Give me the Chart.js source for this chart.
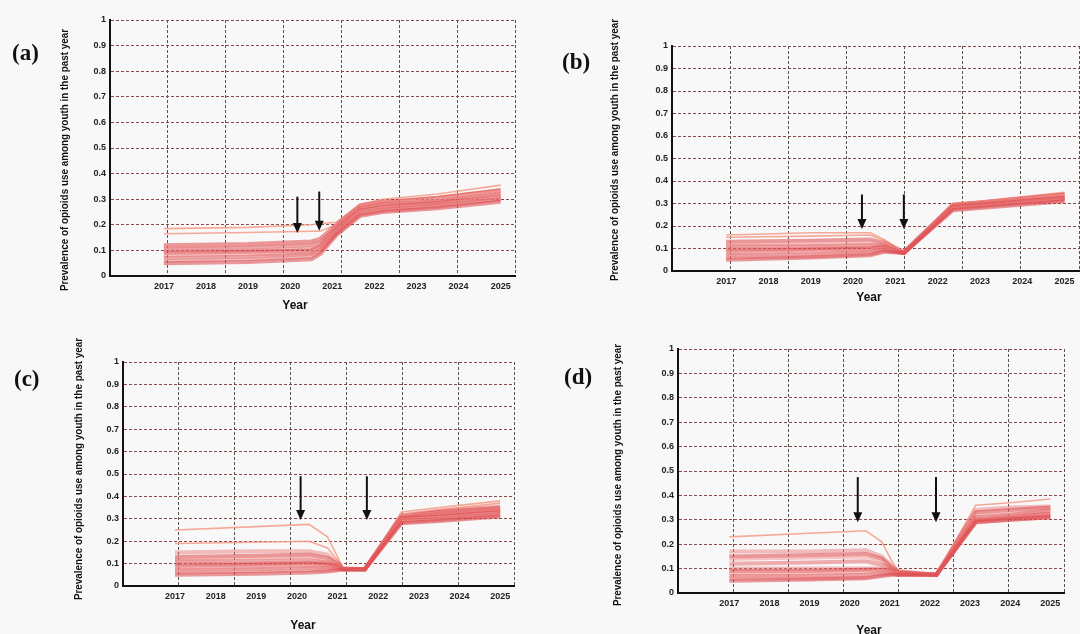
<!DOCTYPE html>
<html>
<head>
<meta charset="utf-8">
<script src="https://cdn.jsdelivr.net/npm/chart.js@4.4.1/dist/chart.umd.min.js"></script>
<style>
  body { margin: 0; width: 1080px; height: 634px; overflow: hidden; position: relative; background: #f8f8f8;
         font-family: 'Liberation Sans Narrow', 'Arial Narrow', 'Liberation Sans', Arial, sans-serif; color: #111; }
  canvas { position: absolute; }
  .tag { position: absolute; font: bold 23px 'Liberation Serif', 'DejaVu Serif', serif; transform: translate(0, -50%); }
  .ytitle { position: absolute; font-weight: bold; font-size: 11.5px; white-space: nowrap;
            transform: translate(-50%, -50%) rotate(-90deg) scaleX(0.86); }
  .xtitle { position: absolute; font-weight: bold; font-size: 13px; transform: translate(-50%, -50%) scaleX(0.92); }
</style>
</head>
<body>
<canvas id="chart-a" width="540" height="317" style="left:0;top:0"></canvas>
<canvas id="chart-b" width="540" height="317" style="left:540px;top:0"></canvas>
<canvas id="chart-c" width="540" height="317" style="left:0;top:317px"></canvas>
<canvas id="chart-d" width="540" height="317" style="left:540px;top:317px"></canvas>
<script>
// annees affichees sur l'axe x
const years = [2017, 2018, 2019, 2020, 2021, 2022, 2023, 2024, 2025];

// (a) temps et simulations
const timesA = [2017, 2019, 2020.5, 2020.71, 2021.1, 2021.66, 2022.2, 2023.5, 2025];
const runsA = [
  [0.05, 0.055, 0.065, 0.085, 0.16, 0.235, 0.25, 0.265, 0.29],
  [0.06, 0.065, 0.075, 0.095, 0.165, 0.24, 0.255, 0.27, 0.30],
  [0.07, 0.075, 0.085, 0.10, 0.17, 0.245, 0.26, 0.275, 0.30],
  [0.08, 0.085, 0.09, 0.11, 0.175, 0.25, 0.265, 0.28, 0.31],
  [0.09, 0.095, 0.10, 0.115, 0.18, 0.255, 0.27, 0.285, 0.31],
  [0.10, 0.10, 0.11, 0.12, 0.185, 0.26, 0.275, 0.29, 0.32],
  [0.105, 0.11, 0.12, 0.13, 0.19, 0.265, 0.28, 0.29, 0.32],
  [0.115, 0.12, 0.13, 0.14, 0.195, 0.27, 0.285, 0.30, 0.33],
  [0.12, 0.125, 0.135, 0.145, 0.20, 0.275, 0.29, 0.305, 0.335],
  [0.165, 0.17, 0.175, 0.175, 0.20, 0.27, 0.29, 0.31, 0.34],
  [0.185, 0.19, 0.20, 0.205, 0.21, 0.28, 0.30, 0.32, 0.355]
];
const arrowsA = [{ x: 2020.17, from: 0.31, to: 0.168 }, { x: 2020.69, from: 0.33, to: 0.177 }];

// (b)
const timesB = [2017, 2019, 2020.4, 2020.73, 2021.2, 2022.36, 2023, 2025];
const runsB = [
  [0.05, 0.06, 0.07, 0.085, 0.08, 0.27, 0.28, 0.31],
  [0.06, 0.065, 0.075, 0.09, 0.08, 0.275, 0.285, 0.315],
  [0.07, 0.075, 0.085, 0.095, 0.08, 0.28, 0.29, 0.32],
  [0.08, 0.085, 0.09, 0.10, 0.08, 0.28, 0.29, 0.32],
  [0.09, 0.095, 0.10, 0.105, 0.08, 0.285, 0.295, 0.325],
  [0.10, 0.10, 0.105, 0.11, 0.08, 0.29, 0.30, 0.33],
  [0.11, 0.11, 0.115, 0.115, 0.08, 0.29, 0.30, 0.33],
  [0.12, 0.12, 0.125, 0.12, 0.085, 0.29, 0.305, 0.335],
  [0.13, 0.135, 0.14, 0.125, 0.085, 0.295, 0.305, 0.34],
  [0.15, 0.155, 0.16, 0.135, 0.085, 0.295, 0.31, 0.345],
  [0.16, 0.17, 0.17, 0.14, 0.085, 0.30, 0.31, 0.35]
];
const arrowsB = [{ x: 2020.21, from: 0.34, to: 0.187 }, { x: 2021.2, from: 0.34, to: 0.187 }];

// (c)
const timesC = [2017, 2019, 2020.3, 2020.75, 2021.0, 2021.13, 2021.67, 2022.57, 2023.5, 2025];
const runsC = [
  [0.05, 0.055, 0.06, 0.065, 0.07, 0.075, 0.075, 0.28, 0.29, 0.31],
  [0.06, 0.065, 0.07, 0.07, 0.075, 0.075, 0.075, 0.285, 0.295, 0.315],
  [0.07, 0.075, 0.08, 0.08, 0.078, 0.075, 0.075, 0.29, 0.30, 0.32],
  [0.08, 0.085, 0.09, 0.085, 0.08, 0.075, 0.075, 0.295, 0.305, 0.325],
  [0.09, 0.095, 0.10, 0.095, 0.085, 0.075, 0.075, 0.30, 0.31, 0.33],
  [0.10, 0.10, 0.105, 0.10, 0.09, 0.075, 0.075, 0.30, 0.315, 0.335],
  [0.11, 0.11, 0.115, 0.105, 0.09, 0.075, 0.075, 0.305, 0.32, 0.34],
  [0.12, 0.125, 0.13, 0.115, 0.095, 0.075, 0.075, 0.31, 0.32, 0.34],
  [0.13, 0.135, 0.14, 0.125, 0.10, 0.075, 0.075, 0.31, 0.33, 0.35],
  [0.15, 0.155, 0.155, 0.14, 0.105, 0.08, 0.075, 0.315, 0.335, 0.355],
  [0.19, 0.195, 0.20, 0.17, 0.115, 0.08, 0.075, 0.32, 0.34, 0.37],
  [0.25, 0.265, 0.275, 0.22, 0.13, 0.08, 0.075, 0.33, 0.35, 0.38]
];
const arrowsC = [{ x: 2020.09, from: 0.49, to: 0.295 }, { x: 2021.72, from: 0.49, to: 0.295 }];

// (d)
const timesD = [2017, 2019, 2020.4, 2020.8, 2021.05, 2021.21, 2022.16, 2023.14, 2024, 2025];
const runsD = [
  [0.05, 0.055, 0.06, 0.07, 0.075, 0.075, 0.075, 0.29, 0.30, 0.31],
  [0.06, 0.06, 0.065, 0.075, 0.078, 0.075, 0.075, 0.29, 0.30, 0.31],
  [0.07, 0.07, 0.075, 0.08, 0.08, 0.075, 0.075, 0.295, 0.305, 0.315],
  [0.08, 0.08, 0.085, 0.09, 0.085, 0.078, 0.075, 0.30, 0.31, 0.32],
  [0.09, 0.09, 0.095, 0.095, 0.09, 0.08, 0.075, 0.30, 0.31, 0.325],
  [0.10, 0.10, 0.10, 0.10, 0.095, 0.08, 0.075, 0.30, 0.315, 0.33],
  [0.12, 0.125, 0.13, 0.115, 0.10, 0.085, 0.075, 0.31, 0.32, 0.34],
  [0.14, 0.145, 0.15, 0.13, 0.10, 0.085, 0.075, 0.32, 0.33, 0.345],
  [0.15, 0.155, 0.16, 0.14, 0.105, 0.085, 0.075, 0.33, 0.34, 0.35],
  [0.17, 0.17, 0.175, 0.15, 0.11, 0.09, 0.075, 0.34, 0.35, 0.355],
  [0.23, 0.245, 0.255, 0.21, 0.13, 0.09, 0.075, 0.36, 0.37, 0.385]
];
const arrowsD = [{ x: 2020.2, from: 0.475, to: 0.29 }, { x: 2022.15, from: 0.475, to: 0.29 }];

const yTitle = 'Prevalence of opioids  use among youth in the past year';
const fontFam = "'Liberation Sans Narrow', 'Arial Narrow', 'Liberation Sans', Arial, sans-serif";
const runColors = ['rgba(215,55,60,0.5)', 'rgba(236,125,125,0.5)', 'rgba(225,80,85,0.45)', 'rgba(240,150,145,0.55)'];

// mise en page de chaque panneau (coordonnees locales du canvas)
const panels = [
  { id: 'a', left: 0, top: 0, axisX: 110, right: 515, plotTop: 20, plotBottom: 276, times: timesA, runs: runsA, arrows: arrowsA, outliers: 2,
    tag: [12, 53], ytitle: [64, 160], xtitle: [295, 304] },
  { id: 'b', left: 540, top: 0, axisX: 132, right: 539, plotTop: 46, plotBottom: 271, times: timesB, runs: runsB, arrows: arrowsB, outliers: 2,
    tag: [22, 62], ytitle: [74, 150], xtitle: [329, 296] },
  { id: 'c', left: 0, top: 317, axisX: 123, right: 514, plotTop: 45, plotBottom: 269, times: timesC, runs: runsC, arrows: arrowsC, outliers: 2,
    tag: [14, 62], ytitle: [78, 152], xtitle: [303, 307] },
  { id: 'd', left: 540, top: 317, axisX: 138, right: 524, plotTop: 32, plotBottom: 276, times: timesD, runs: runsD, arrows: arrowsD, outliers: 1,
    tag: [24, 60], ytitle: [77, 158], xtitle: [329, 312] }
];

// fleches noires
const arrowPlugin = {
  id: 'arrows',
  afterDatasetsDraw(chart, args, opts) {
    const { ctx, scales } = chart;
    ctx.save();
    ctx.strokeStyle = '#111';
    ctx.fillStyle = '#111';
    ctx.lineWidth = 2;
    (opts.items || []).forEach(a => {
      const x = scales.x.getPixelForValue(a.x);
      const y1 = scales.y.getPixelForValue(a.from);
      const y2 = scales.y.getPixelForValue(a.to);
      ctx.beginPath();
      ctx.moveTo(x, y1);
      ctx.lineTo(x, y2 - 8);
      ctx.stroke();
      ctx.beginPath();
      ctx.moveTo(x - 4.5, y2 - 10);
      ctx.lineTo(x + 4.5, y2 - 10);
      ctx.lineTo(x, y2);
      ctx.closePath();
      ctx.fill();
    });
    ctx.restore();
  }
};

function addText(cls, text, x, y) {
  const d = document.createElement('div');
  d.className = cls;
  d.textContent = text;
  d.style.left = x + 'px';
  d.style.top = y + 'px';
  document.body.appendChild(d);
}

function drawPanel(p) {
  const n = p.runs.length;
  const datasets = p.runs.map((run, i) => {
    const outlier = i >= n - p.outliers;
    return {
      data: run.map((v, k) => ({ x: p.times[k], y: v })),
      xAxisID: 'x',
      yAxisID: 'y',
      borderColor: outlier ? 'rgba(245,155,135,0.85)' : runColors[i % runColors.length],
      borderWidth: outlier ? 1.6 : 4,
      pointRadius: 0,
      tension: 0,
      fill: false
    };
  });

  new Chart(document.getElementById('chart-' + p.id), {
    type: 'line',
    data: { datasets },
    plugins: [arrowPlugin],
    options: {
      responsive: false,
      animation: false,
      layout: { padding: { left: p.axisX - 30, right: 540 - p.right, top: p.plotTop, bottom: 317 - p.plotBottom - 16 } },
      plugins: { legend: { display: false }, tooltip: { enabled: false }, arrows: { items: p.arrows } },
      scales: {
        x: {
          type: 'linear', position: 'bottom', weight: 1, min: 2015.72, max: 2025.34,
          afterBuildTicks: s => { s.ticks = years.map(v => ({ value: v })); },
          afterFit: s => { s.height = 16; },
          grid: { display: false, drawTicks: false },
          border: { display: true, color: '#111', width: 2 },
          ticks: { color: '#222', padding: 5, maxRotation: 0, autoSkip: false,
                   font: { size: 9, weight: 'bold', family: fontFam }, callback: v => String(v) }
        },
        xg: {
          type: 'linear', position: 'bottom', weight: 0, min: 0, max: 7,
          ticks: { display: false, stepSize: 1 },
          grid: { color: '#5b5252', lineWidth: 1, drawTicks: false },
          border: { display: false, dash: [3, 2] },
          afterFit: s => { s.height = 0; }
        },
        y: {
          min: 0, max: 1,
          afterFit: s => { s.width = 30; },
          grid: { color: '#8a4848', lineWidth: 1, drawTicks: false },
          border: { display: true, color: '#111', width: 2, dash: [3, 2] },
          ticks: { stepSize: 0.1, color: '#222', padding: 4,
                   font: { size: 9, weight: 'bold', family: fontFam },
                   callback: v => String(Math.round(v * 10) / 10) }
        }
      }
    }
  });

  addText('tag', '(' + p.id + ')', p.left + p.tag[0], p.top + p.tag[1]);
  addText('ytitle', yTitle, p.left + p.ytitle[0], p.top + p.ytitle[1]);
  addText('xtitle', 'Year', p.left + p.xtitle[0], p.top + p.xtitle[1]);
}

panels.forEach(drawPanel);
</script>
</body>
</html>
